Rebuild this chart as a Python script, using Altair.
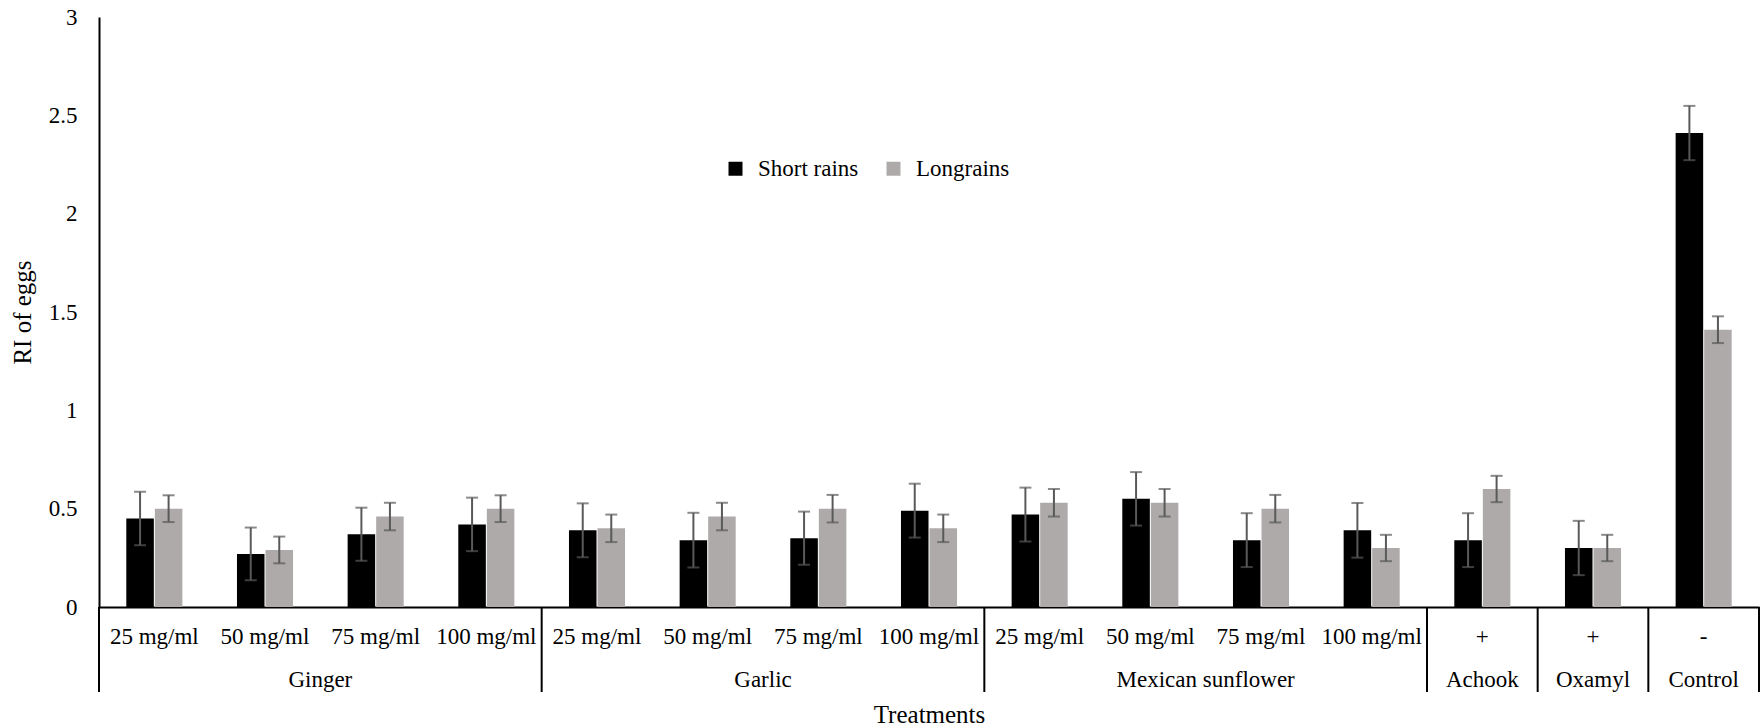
import altair as alt
import pandas as pd

# ---- data ----
groups = ["Ginger", "Ginger", "Ginger", "Ginger",
          "Garlic", "Garlic", "Garlic", "Garlic",
          "Mexican sunflower", "Mexican sunflower", "Mexican sunflower", "Mexican sunflower",
          "Achook", "Oxamyl", "Control"]
subs = ["25 mg/ml", "50 mg/ml", "75 mg/ml", "100 mg/ml",
        "25 mg/ml", "50 mg/ml", "75 mg/ml", "100 mg/ml",
        "25 mg/ml", "50 mg/ml", "75 mg/ml", "100 mg/ml",
        "+", "+", "-"]
series = ["Short rains", "Longrains"]
short_rains = [0.45, 0.27, 0.37, 0.42, 0.39, 0.34, 0.35, 0.49, 0.47, 0.55, 0.34, 0.39, 0.34, 0.30, 2.41]
short_err = [0.136, 0.134, 0.135, 0.136, 0.137, 0.139, 0.135, 0.137, 0.137, 0.136, 0.137, 0.139, 0.137, 0.138, 0.138]
long_rains = [0.50, 0.29, 0.46, 0.50, 0.40, 0.46, 0.50, 0.40, 0.53, 0.53, 0.50, 0.30, 0.60, 0.30, 1.41]
long_err = [0.068, 0.068, 0.07, 0.068, 0.07, 0.07, 0.07, 0.07, 0.07, 0.07, 0.07, 0.067, 0.067, 0.067, 0.068]
colors = ["#000000", "#AEAAAA"]

FONT = "Liberation Serif"
keys = [f"{g}|{s}" for g, s in zip(groups, subs)]

rows = []
for vals, errs, name in ((short_rains, short_err, series[0]), (long_rains, long_err, series[1])):
    for k, v, e in zip(keys, vals, errs):
        rows.append({"key": k, "series": name, "value": v, "lo": v - e, "hi": v + e})
df = pd.DataFrame(rows)

# group tables (label anchors and separators derived from categories)
order = []
for g in groups:
    if g not in order:
        order.append(g)
multi, single, seps = [], [], []
for g in order:
    idx = [i for i, gg in enumerate(groups) if gg == g]
    seps.append({"key": keys[idx[0]]})
    if len(idx) > 1:
        multi.append({"key": keys[idx[len(idx) // 2 - 1]], "group": g})
    else:
        single.append({"key": keys[idx[0]], "group": g})
df_multi = pd.DataFrame(multi)
df_single = pd.DataFrame(single)
df_seps = pd.DataFrame(seps)
df_end = pd.DataFrame([{"key": keys[-1]}])

W, H = 1660, 590

x_scale = alt.Scale(domain=keys, paddingInner=0, paddingOuter=0)
x_axis = alt.Axis(
    title="Treatments", labelExpr="split(datum.label, '|')[1]", labelAngle=0,
    ticks=False, labelPadding=36, labelBaseline="alphabetic", labelFontSize=23,
    labelFont=FONT, labelColor="#000000", domainColor="#000000", domainWidth=2,
    titleFont=FONT, titleFontSize=25, titleFontWeight="normal", titleColor="#000000",
    titleX=830, titleY=115, titleBaseline="alphabetic", labelOverlap=False,
)
xo = alt.XOffset("series:N", scale=alt.Scale(domain=series, paddingInner=0.035, paddingOuter=0.957))
y_scale = alt.Scale(domain=[0, 3], nice=False)
y_axis = alt.Axis(
    title="RI of eggs", values=[0, 0.5, 1, 1.5, 2, 2.5, 3], format="~g", grid=False,
    ticks=False, labelPadding=22, labelFont=FONT, labelFontSize=23, labelColor="#000000",
    domainColor="#000000", domainWidth=2, titleFont=FONT, titleFontSize=25,
    titleFontWeight="normal", titleColor="#000000", titleX=-76.5, titleY=295,
    titleBaseline="middle",
)

base = alt.Chart(df)

bars = base.mark_bar().encode(
    x=alt.X("key:N", sort=keys, scale=x_scale, axis=x_axis),
    xOffset=xo,
    y=alt.Y("value:Q", scale=y_scale, axis=y_axis),
    color=alt.Color("series:N", scale=alt.Scale(domain=series, range=colors),
                    legend=alt.Legend(title=None, orient="none", legendX=625, legendY=140,
                                      direction="horizontal", symbolType="square",
                                      symbolSize=196, symbolStrokeWidth=0, labelFont=FONT,
                                      labelFontSize=23, labelColor="#000000", labelOffset=11,
                                      columnPadding=23, padding=0)),
)

err = base.mark_rule(color="#595959", strokeWidth=2).encode(
    x=alt.X("key:N", sort=keys, scale=x_scale),
    xOffset=xo,
    y=alt.Y("lo:Q", scale=y_scale),
    y2="hi:Q",
)
cap_lo = base.mark_tick(color="#595959", thickness=2, size=12).encode(
    x=alt.X("key:N", sort=keys, scale=x_scale),
    xOffset=xo,
    y=alt.Y("lo:Q", scale=y_scale),
)
cap_hi = base.mark_tick(color="#595959", thickness=2, size=12).encode(
    x=alt.X("key:N", sort=keys, scale=x_scale),
    xOffset=xo,
    y=alt.Y("hi:Q", scale=y_scale),
)

sep = alt.Chart(df_seps).mark_rule(color="#000000", strokeWidth=2).encode(
    x=alt.X("key:N", sort=keys, scale=x_scale, bandPosition=0),
    y=alt.value(H), y2=alt.value(H + 85),
)
sep_end = alt.Chart(df_end).mark_rule(color="#000000", strokeWidth=2).encode(
    x=alt.X("key:N", sort=keys, scale=x_scale, bandPosition=1),
    y=alt.value(H), y2=alt.value(H + 85),
)
lab_multi = alt.Chart(df_multi).mark_text(font=FONT, fontSize=23, baseline="alphabetic", color="#000000").encode(
    x=alt.X("key:N", sort=keys, scale=x_scale, bandPosition=1),
    y=alt.value(H + 80), text="group:N",
)
lab_single = alt.Chart(df_single).mark_text(font=FONT, fontSize=23, baseline="alphabetic", color="#000000").encode(
    x=alt.X("key:N", sort=keys, scale=x_scale, bandPosition=0.5),
    y=alt.value(H + 80), text="group:N",
)

chart = alt.layer(bars, err, cap_lo, cap_hi, sep, sep_end, lab_multi, lab_single).properties(
    width=W, height=H,
    padding={"left": 99, "top": 17, "right": 3, "bottom": 121},
    autosize=alt.AutoSizeParams(type="none"),
    background="#ffffff",
).configure_view(stroke=None)

chart.save("out.html", embed_options={"renderer": "svg", "actions": False})
